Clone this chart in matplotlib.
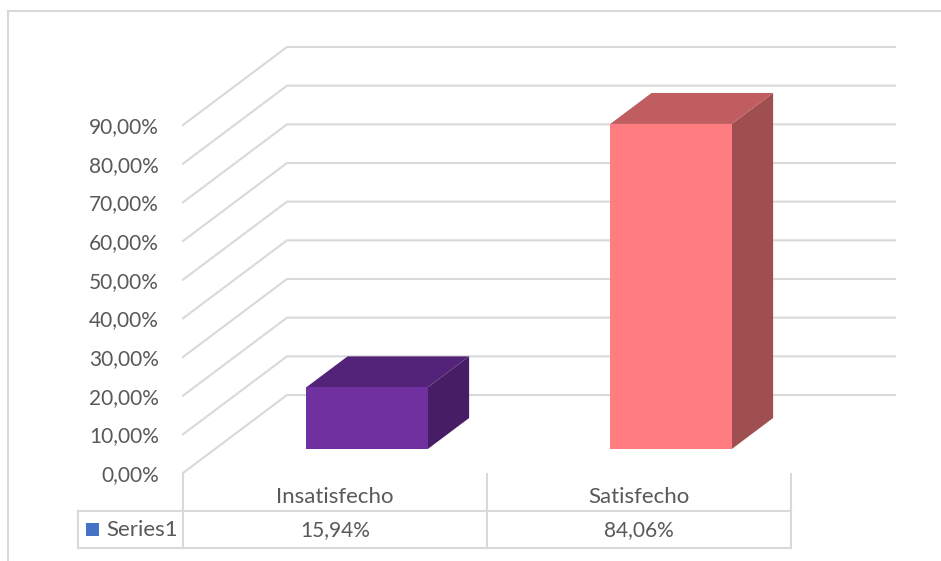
import matplotlib
matplotlib.use("Agg")
import matplotlib.pyplot as plt
from matplotlib.patches import Polygon, Rectangle

# ---------------- data ----------------
categories = ["Insatisfecho", "Satisfecho"]
values = [15.94, 84.06]
value_labels = ["15,94%", "84,06%"]
series_name = "Series1"
yticks = [0, 10, 20, 30, 40, 50, 60, 70, 80, 90]
ytick_labels = ["0,00%", "10,00%", "20,00%", "30,00%", "40,00%",
                "50,00%", "60,00%", "70,00%", "80,00%", "90,00%"]

# ---------------- style ----------------
front_colors = ["#7030A0", "#FF7C80"]
top_colors = ["#532379", "#C05D60"]
side_colors = ["#471E66", "#A04F51"]
legend_color = "#4472C4"
grid_color = "#D9D9D9"
text_color = "#595959"
FONT = "Lato"
FS_NUM = 15
FS_TXT = 16

plt.rcParams["font.family"] = [FONT, "DejaVu Sans"]

W, H = 941, 561
fig = plt.figure(figsize=(W / 100, H / 100), dpi=100)
fig.patch.set_facecolor("white")

def fx(px):
    return px / W

def fy(py):
    return 1 - py / H

# front plane of the 3D plot (pixel layout)
X0, X1 = 183, 791
Y0, Y1 = 473, 125
ax = fig.add_axes([fx(X0), fy(Y0), fx(X1) - fx(X0), fy(Y1) - fy(Y0)])
ax.set_xlim(-0.5, 1.5)
ax.set_ylim(0, 90)
ax.patch.set_alpha(0)
for s in ax.spines.values():
    s.set_visible(False)
ax.set_xticks([])
ax.set_yticks(yticks, ytick_labels)
ax.tick_params(axis="y", length=0, pad=17.3, labelcolor=text_color, labelsize=FS_NUM)

# depth offset (in data units) from pixel geometry
dx = 104 / (X1 - X0) * 2.0
dy = 78 / (Y0 - Y1) * 90.0

# gridlines: diagonal side wall + back wall
for v in yticks:
    ax.plot([-0.5, -0.5 + dx, 1.5 + dx], [v, v + dy, v + dy],
            color=grid_color, lw=1.5, clip_on=False, zorder=1,
            solid_joinstyle="miter")

# bars
w = 0.40
f0, f1 = 0.308, 0.705
for i, v in enumerate(values):
    xl = i - w / 2 + f0 * dx
    xr = xl + w
    b = f0 * dy
    t = b + v
    ddx = (f1 - f0) * dx
    ddy = (f1 - f0) * dy
    front = Polygon([(xl, b), (xr, b), (xr, t), (xl, t)], closed=True,
                    facecolor=front_colors[i], edgecolor="none", zorder=3, clip_on=False)
    top = Polygon([(xl, t), (xr, t), (xr + ddx, t + ddy), (xl + ddx, t + ddy)], closed=True,
                  facecolor=top_colors[i], edgecolor="none", zorder=3, clip_on=False)
    side = Polygon([(xr, b), (xr + ddx, b + ddy), (xr + ddx, t + ddy), (xr, t)], closed=True,
                   facecolor=side_colors[i], edgecolor="none", zorder=3, clip_on=False)
    for p in (side, top, front):
        ax.add_patch(p)

# ---------------- overlay (pixel coordinates) ----------------
ov = fig.add_axes([0, 0, 1, 1])
ov.set_xlim(0, W)
ov.set_ylim(H, 0)
ov.axis("off")
ov.patch.set_alpha(0)

lc = dict(color=grid_color, lw=1.5)
# chart border
ov.plot([8, 8], [11, H], **lc)
ov.plot([8, W], [11, 11], **lc)
# data table lines
ov.plot([183, 183], [473, 548], **lc)
ov.plot([487, 487], [474, 548], **lc)
ov.plot([791, 791], [474, 548], **lc)
ov.plot([78, 791], [511, 511], **lc)
ov.plot([78, 791], [548, 548], **lc)
ov.plot([78, 78], [511, 548], **lc)

# legend key
ov.add_patch(Rectangle((86, 523), 13, 13, facecolor=legend_color, edgecolor="none"))
ov.text(106, 530, series_name, ha="left", va="center", fontsize=FS_TXT, color=text_color)

# category labels and values (x from the chart's category scale)
xt = ax.get_xaxis_transform()
def ay(py):
    return (Y0 - py) / (Y0 - Y1)

for i, (c, lab) in enumerate(zip(categories, value_labels)):
    ax.text(i, ay(497), c, transform=xt, ha="center", va="center",
            fontsize=FS_TXT, color=text_color, clip_on=False)
    ax.text(i, ay(530), lab, transform=xt, ha="center", va="center",
            fontsize=FS_NUM, color=text_color, clip_on=False)

fig.savefig("out.png", dpi=100)
